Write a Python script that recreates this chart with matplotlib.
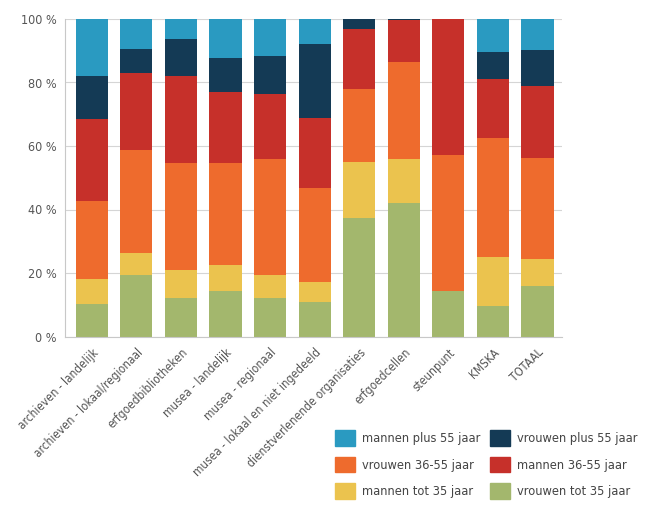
import numpy as np
import matplotlib.pyplot as plt
from matplotlib.patches import Patch

categories = ['archieven - landelijk', 'archieven - lokaal/regionaal', 'erfgoedbibliotheken',
              'musea - landelijk', 'musea - regionaal', 'musea - lokaal en niet ingedeeld',
              'dienstverlenende organisaties', 'erfgoedcellen', 'steunpunt', 'KMSKA', 'TOTAAL']

# shares in %, bottom to top
vrouwen_tot_35 = [10.3, 19.3, 12.2, 14.4, 12.1, 10.8, 37.4, 42.0, 14.4, 9.7, 15.9]
mannen_tot_35 = [7.9, 6.9, 8.9, 8.2, 7.2, 6.5, 17.5, 13.9, 0.0, 15.2, 8.5]
vrouwen_36_55 = [24.5, 32.4, 33.4, 31.9, 36.6, 29.6, 23.1, 30.6, 42.9, 37.5, 31.9]
mannen_36_55 = [25.8, 24.4, 27.6, 22.4, 20.6, 22.0, 18.9, 13.2, 42.7, 18.7, 22.5]
vrouwen_plus_55 = [13.6, 7.6, 11.7, 10.9, 11.8, 23.2, 3.1, 0.3, 0.0, 8.5, 11.4]
mannen_plus_55 = [17.9, 9.4, 6.2, 12.2, 11.7, 7.9, 0.0, 0.0, 0.0, 10.4, 9.8]

series = [
    ('vrouwen tot 35 jaar', vrouwen_tot_35, '#a3b76d'),
    ('mannen tot 35 jaar', mannen_tot_35, '#ebc34e'),
    ('vrouwen 36-55 jaar', vrouwen_36_55, '#ee6b2d'),
    ('mannen 36-55 jaar', mannen_36_55, '#c6302a'),
    ('vrouwen plus 55 jaar', vrouwen_plus_55, '#143a55'),
    ('mannen plus 55 jaar', mannen_plus_55, '#2a9ac1'),
]

plt.rcParams['font.family'] = ['DejaVu Sans']
plt.rcParams['font.stretch'] = 'condensed'
text_color = '#555555'

fig = plt.figure(figsize=(6.45, 5.08), dpi=100)
ax = fig.add_axes([65 / 645, 1 - 336.5 / 508, (562 - 65) / 645, (336.5 - 19) / 508])

x = np.arange(len(categories))
bottom = np.zeros(len(categories))
handles = {}
for name, vals, color in series:
    vals = np.array(vals)
    ax.bar(x, vals, 0.72, bottom=bottom, color=color, zorder=2)
    bottom += vals
    handles[name] = Patch(color=color)

ax.set_xlim(-0.6, len(categories) - 0.45)
ax.set_ylim(0, 100)
ax.set_yticks([0, 20, 40, 60, 80, 100])
ax.set_yticklabels(['0 %', '20 %', '40 %', '60 %', '80 %', '100 %'], color=text_color, fontsize=9)
ax.set_xticks(x)
ax.set_xticklabels(categories, rotation=45, ha='right', rotation_mode='anchor',
                   color=text_color, fontsize=8.5)
ax.tick_params(axis='y', length=0, pad=6)
ax.tick_params(axis='x', length=0, pad=7)
ax.yaxis.grid(True, color='#d5d5d5', lw=0.8, zorder=0)
for s in ['top', 'right']:
    ax.spines[s].set_visible(False)
for s in ['left', 'bottom']:
    ax.spines[s].set_color('#c8c8c8')

order = ['mannen plus 55 jaar', 'vrouwen 36-55 jaar', 'mannen tot 35 jaar',
         'vrouwen plus 55 jaar', 'mannen 36-55 jaar', 'vrouwen tot 35 jaar']
leg = fig.legend([handles[n] for n in order], order, ncol=2, loc='lower right',
                 bbox_to_anchor=(1.006, -0.005), frameon=False, fontsize=9.2,
                 handlelength=1.55, handleheight=1.5, handletextpad=0.55,
                 columnspacing=0.75, labelspacing=0.87, labelcolor='#444444')

fig.savefig('out.png', dpi=100)
